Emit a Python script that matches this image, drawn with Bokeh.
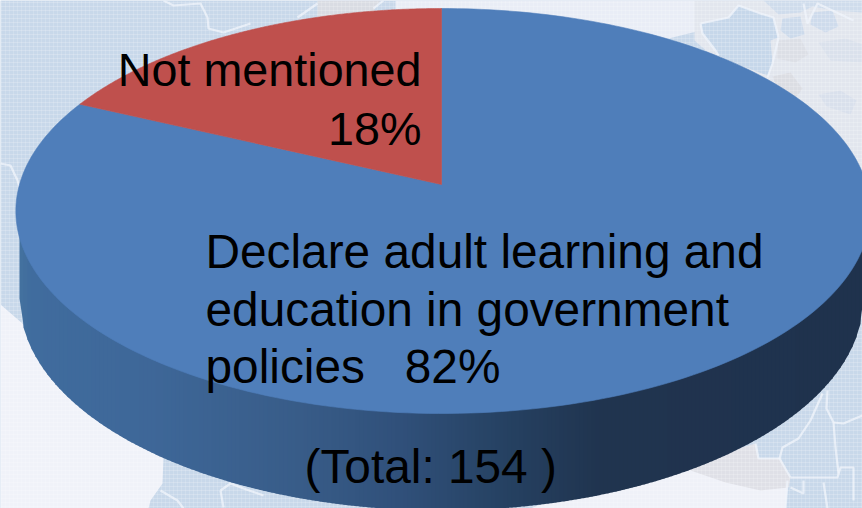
import numpy as np
from bokeh.plotting import figure
from bokeh.models import Range1d
from bokeh.core.properties import value
from bokeh.embed import file_html
from bokeh.resources import INLINE

# Pie values, in percent, with the total count of respondents
categories = ["Declare adult learning and education in government policies", "Not mentioned"]
shares = [82, 18]
total = 154

slice_colors = ["#4f7eba", "#bf504d"]
TEXT_FONT = "Liberation Sans"

W, H = 862, 508
p = figure(width=W, height=H, output_backend="svg", toolbar_location=None,
           x_range=Range1d(0, W), y_range=Range1d(H, 0), min_border=0,
           outline_line_color=None, background_fill_color="#c8d8ea",
           border_fill_color=None)
p.axis.visible = False
p.grid.visible = False

# Pale world-map backdrop: land fills first, borders and weave afterwards
paper = [
    # open paper at lower left and lower right
    ([0, 30, 60, 120, 163, 162, 150, 148, 0], [304, 330, 365, 425, 457, 483, 500, 508, 508], "#f0f2f9"),
    ([785, 787, 786, 760, 700, 600, 500], [508, 490, 478, 460, 444, 480, 520], "#eff1f8"),
    ([715, 755, 758, 780, 790, 788, 760, 725, 690], [455, 443, 458, 458, 477, 487, 490, 482, 470], "#dfe0e7"),
    # top strip and upper right
    ([395, 700, 700, 660, 600, 520, 395], [0, 0, 30, 40, 25, 12, 10], "#e9edf6"),
    ([694, 862, 862, 800, 740, 694], [0, 0, 210, 150, 80, 40], "#e2e6ee"),
    ([700, 728, 738, 760, 773, 778, 770, 772, 767, 735, 718, 702], [23, 17, 5, 13, 17, 37, 40, 63, 75, 63, 55, 33], "#c6d7ea"),
    ([763, 862, 862, 835, 812, 800, 778], [0, 0, 12, 10, 6, 12, 14], "#cfdcec"),
    ([782, 800, 804, 790, 780], [18, 16, 34, 38, 30], "#ccdaeb"),
    ([812, 832, 838, 825, 810], [12, 10, 26, 32, 24], "#ced"  "bec"),
    ([778, 800, 808, 795, 776], [40, 38, 54, 62, 58], "#dcdfe6"),
    ([772, 790, 802, 795, 778], [76, 72, 88, 98, 92], "#dbdde3"),
    ([818, 845, 862, 862, 830], [42, 38, 44, 62, 60], "#dae1ec"),
    ([818, 840, 856, 850, 826], [94, 90, 100, 114, 106], "#d9e0ec"),
    ([317, 380, 372, 345, 317], [0, 0, 12, 14, 18], "#d9dce3"),
]
p.patches([s[0] for s in paper], [s[1] for s in paper], fill_color=[s[2] for s in paper], line_color=None)

borders_x = [
    [163, 173, 200, 207, 208, 223, 250],
    [0, 10, 17, 20],
    [822, 810, 798, 782, 779, 790],
    [827, 826, 833, 835, 838],
    [833, 843, 857, 862],
    [755, 758, 780],
    [790, 837, 840, 853, 853],
    [803, 803, 790],
    [823, 827],
    [787, 785],
    [160, 177, 183],
    [220, 230, 243, 263],
    [220, 223],
    [297, 317],
    [373, 383],
    [700, 728, 738, 760, 773, 778],
    [700, 702, 715, 718],
    [803, 807, 817, 853],
    [778, 772, 767],
]
borders_y = [
    [0, 5, 3, 17, 28, 32, 23],
    [163, 165, 180, 190],
    [393, 420, 438, 447, 458, 477],
    [390, 408, 422, 447, 473],
    [422, 423, 417, 415],
    [443, 458, 458],
    [477, 477, 467, 467, 500],
    [480, 493, 487],
    [482, 508],
    [480, 508],
    [490, 500, 508],
    [490, 483, 488, 495],
    [490, 507],
    [17, 3],
    [8, 0],
    [23, 17, 5, 13, 17, 37],
    [23, 33, 50, 55],
    [3, 23, 3, 20],
    [37, 63, 77],
]
p.multi_line(borders_x, borders_y, line_color="#edf2fa", line_width=2.2, line_alpha=0.8)

# Fine printed weave over the backdrop
gx = np.arange(1, W, 4)
gy = np.arange(2, H, 4)
p.segment(x0=gx, y0=0, x1=gx, y1=H, line_color="#ffffff", line_alpha=0.16, line_width=1)
p.segment(x0=0, y0=gy, x1=W, y1=gy, line_color="#ffffff", line_alpha=0.2, line_width=1)

# Perspective projection of the pie's top disc onto the page
CX = 441
RIM_NEAR, APEX, RIM_FAR = 413, 184, 8
SCALE_LEFT, SCALE_RIGHT = 422, 425
PERSP = (2 * (RIM_NEAR - APEX)) / (RIM_NEAR - RIM_FAR) - 1

def project(u, v):
    d = 1 + PERSP * v
    scale = np.where(u < 0, SCALE_LEFT, SCALE_RIGHT)
    return CX + scale * u / d, RIM_NEAR - (RIM_NEAR - APEX) * (1 + v) / d

# Wall of the pie: a shaded band from behind the disc down to a lower ellipse
WALL_CY, WALL_B, WALL_A = 298, 212, 422
wall_stops = [(19, "#44729f"), (30, "#406c9e"), (150, "#3e6798"), (300, "#385c88"),
              (400, "#30507a"), (500, "#264263"), (600, "#20344f"), (862, "#1f324d")]
sx = [s[0] for s in wall_stops]
rgb = np.array([[int(s[1][i:i + 2], 16) for i in (1, 3, 5)] for s in wall_stops], float)
edges = np.concatenate([np.arange(19, 863, 4.0), [863.0]])

def wall_edge(x):
    return WALL_CY + WALL_B * np.sqrt(np.clip(1 - ((x - CX) / WALL_A) ** 2, 0, 1))

strip_x, strip_y, strip_c = [], [], []
for a, b in zip(edges[:-1], edges[1:]):
    m = (a + b) / 2
    # overlap each strip slightly so no seams show between neighbours
    b2 = min(b + 1, 863.0)
    strip_x.append([a, b2, b2, a])
    strip_y.append([205, 205, float(wall_edge(b2)), float(wall_edge(a))])
    strip_c.append("#%02x%02x%02x" % tuple(int(round(np.interp(m, sx, rgb[:, c]))) for c in range(3)))
p.patches(strip_x, strip_y, fill_color=strip_c, line_color=None)

# Slices of the top disc, clockwise from twelve o'clock so the smaller share ends there
fractions = np.array(shares) / sum(shares)
start = 0.0
for frac, color in zip(fractions, slice_colors):
    theta = np.linspace(start, start + frac * 2 * np.pi, 240)
    rx, ry = project(np.sin(theta), np.cos(theta))
    ax, ay = project(np.array(0.0), np.array(0.0))
    p.patch(np.concatenate([[ax], rx]), np.concatenate([[ay], ry]),
            fill_color=color, line_color=color, line_width=0.6)
    start += frac * 2 * np.pi

# Labels
gap = "\u00a0\u00a0\u00a0"
text_rows = [
    (421, 69, "right", categories[1], "46.7px"),
    (421, 128, "right", f"{shares[1]}%", "46.7px"),
    (205, 251, "left", "Declare adult learning and", "47.8px"),
    (205, 309, "left", "education in government", "47.8px"),
    (205, 366, "left", f"policies{gap}{shares[0]}%", "47.8px"),
    (304, 466, "left", f"(Total: {total} )", "47.8px"),
]
for x, y, align, label, size in text_rows:
    p.text(x=[x], y=[y], text=[label], text_align=align, text_baseline="alphabetic",
           text_font=value(TEXT_FONT), text_font_size=size, text_color="#000000")

open("out.html", "w").write(file_html(p, INLINE))
